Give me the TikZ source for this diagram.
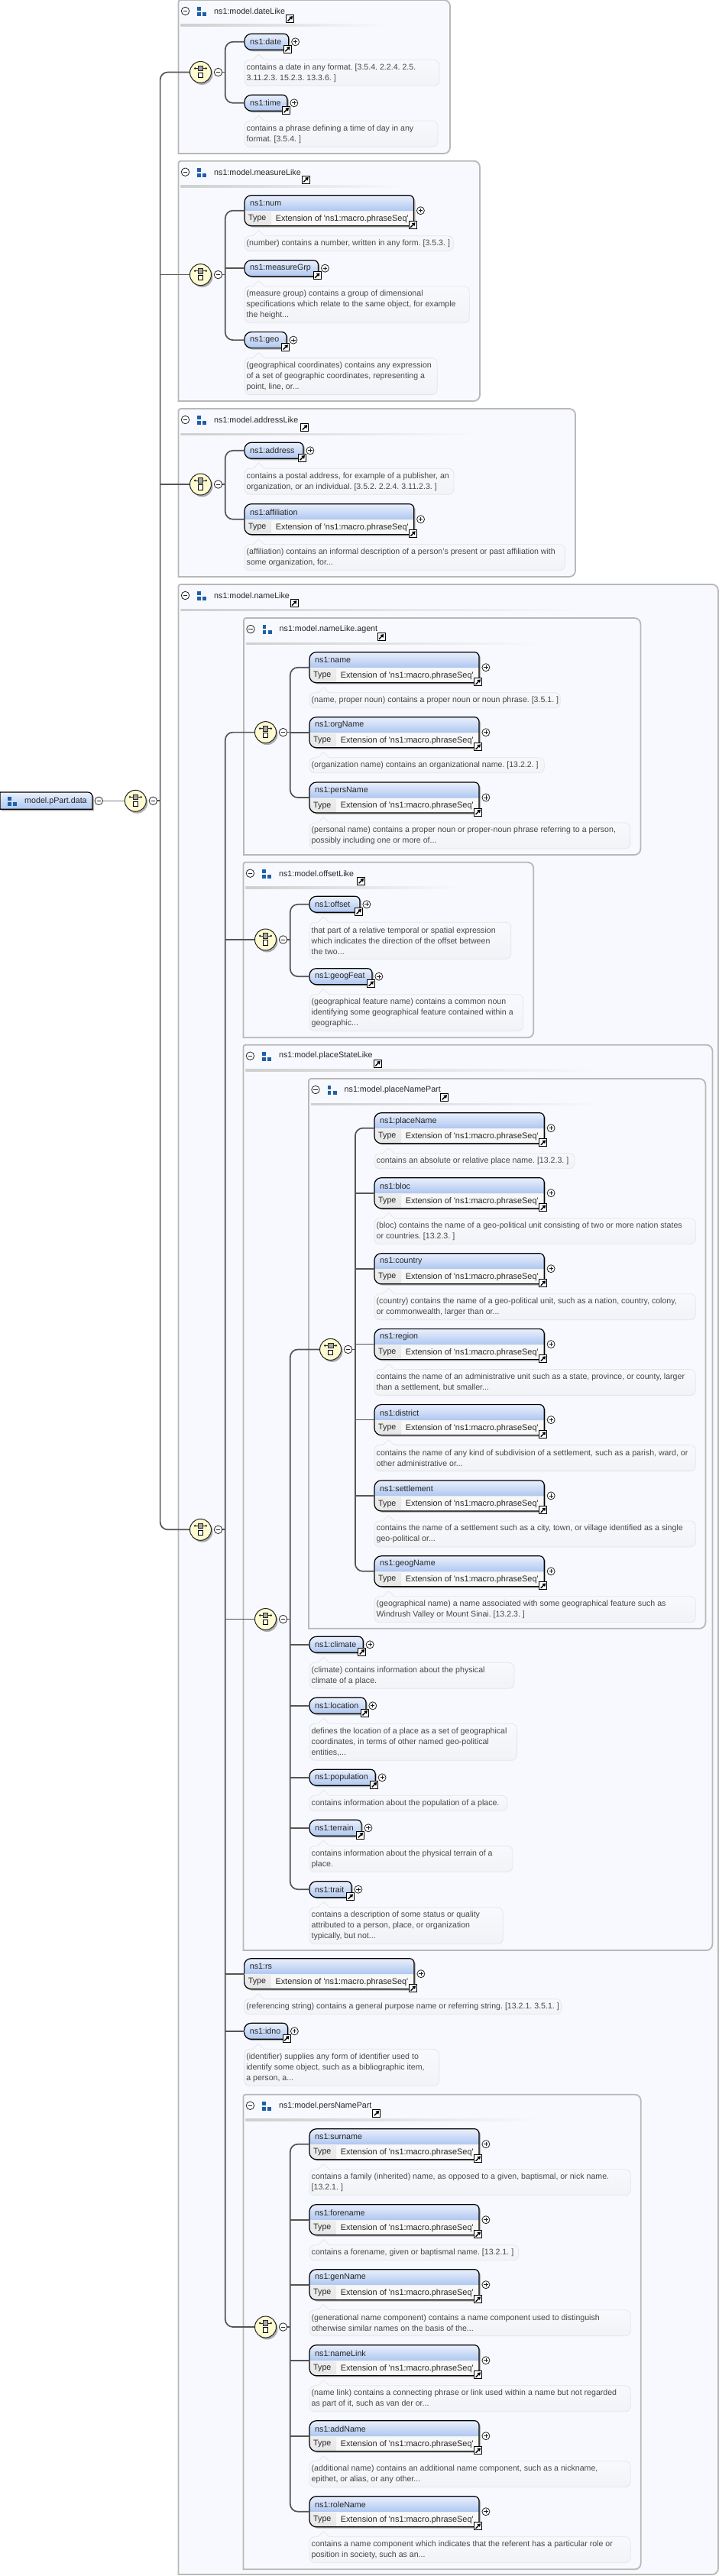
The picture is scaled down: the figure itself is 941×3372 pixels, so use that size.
\documentclass[tikz,border=0pt]{standalone}
\usepackage{fontspec}
\usepackage{xcolor}
\usetikzlibrary{positioning,shadows,arrows.meta}
\setmainfont{Liberation Sans}

\definecolor{elemtop}{HTML}{EAF0FD}
\definecolor{elembot}{HTML}{AEC7F0}
\definecolor{typegrey}{HTML}{E6E6E6}
\definecolor{extwhite}{HTML}{F8F8F8}
\definecolor{grpfill}{HTML}{F8F9FE}
\definecolor{grpline}{HTML}{B8B8B8}
\definecolor{hdrline}{HTML}{CFCFCF}
\definecolor{iconblue}{HTML}{1F5FA8}
\definecolor{seqfill}{HTML}{FDFBCF}
\definecolor{linkgrey}{HTML}{555555}
\definecolor{tiptop}{HTML}{F9FAFD}
\definecolor{tipbot}{HTML}{F2F3F6}
\definecolor{tipline}{HTML}{E4E6EA}

\newcommand{\namefont}{\fontsize{10.7}{13}\selectfont\frenchspacing}
\newcommand{\extfont}{\fontsize{10.9}{13}\selectfont}
\newcommand{\tipfont}{\fontsize{10.6}{14}\selectfont\frenchspacing}

\tikzset{
    framenode/.style={inner sep=0pt, outer sep=0pt},
    nametext/.style={inner sep=0pt, anchor=west, text=black!85, font=\namefont},
    tiptext/.style={inner sep=0pt, anchor=west, align=left, text=black!72, font=\tipfont},
    elembody/.style={draw=black, line width=1.2pt, top color=elemtop, bottom color=elembot},
    elemshadow/.style={fill=black!28},
    tipbody/.style={draw=tipline, line width=0.8pt, top color=tiptop, bottom color=tipbot},
    grpbody/.style={draw=grpline, line width=1.8pt, fill=grpfill},
    minusnode/.style={circle, draw=black!85, fill=white, line width=0.8pt, minimum size=10.5pt, inner sep=0pt,
        path picture={\draw [line width=0.8pt] ([xshift=-2.6pt]path picture bounding box.center) -- ([xshift=2.6pt]path picture bounding box.center);}},
    plusnode/.style={circle, draw=black!85, fill=white, line width=0.8pt, minimum size=10pt, inner sep=0pt,
        path picture={\draw [line width=0.8pt] ([xshift=-2.6pt]path picture bounding box.center) -- ([xshift=2.6pt]path picture bounding box.center)
            ([yshift=-2.6pt]path picture bounding box.center) -- ([yshift=2.6pt]path picture bounding box.center);}},
    linknode/.style={rectangle, draw=black, fill=white, line width=0.9pt, minimum size=10pt, inner sep=0pt,
        path picture={\draw [black, line width=1.4pt, -{Triangle[length=4pt,width=5pt]}] ([shift={(-3pt,-3pt)}]path picture bounding box.center) -- ([shift={(3.4pt,3.4pt)}]path picture bounding box.center);}},
    seqnode/.style={circle, draw=black!85, fill=seqfill, line width=1pt, minimum size=28pt, inner sep=0pt,
        drop shadow={shadow xshift=2pt, shadow yshift=-2.5pt, fill=black, opacity=0.3}},
    seqbar/.style={rectangle, draw=black!85, fill=black!35, line width=0.7pt, minimum size=6.5pt, inner sep=0pt},
    seqbox/.style={rectangle, draw=black, fill=white, line width=0.8pt, minimum size=6.5pt, inner sep=0pt},
    trunk/.style={draw=linkgrey, line width=1.7pt, rounded corners=10pt},
    rootlink/.style={draw=black!50, line width=1.3pt},
}

% element outline: square only at the bottom right
\newcommand{\elemshape}[5]{%
    \path [#5] (#3,#4) [rounded corners=9pt] -- (#1,#4) -- (#1,#2) [rounded corners=6pt] -- (#3,#2) [sharp corners] -- (#3,#4) -- cycle;
}

% id, left, top, right, name
\newcommand{\simpleelem}[5]{%
    \elemshape{#2+2}{#3+2}{#4+2}{#3+23}{elemshadow}
    \elemshape{#2}{#3}{#4}{#3+21}{elembody}
    \node (#1) [framenode, anchor=north west, minimum width={(#4-#2)*1pt}, minimum height=21pt] at (#2,#3) {};
    \node (#1name) [nametext] at ([xshift=7pt]#1.west) {#5};
    \node (#1plus) [plusnode, right=3.5pt of #1] {};
    \node (#1link) [linknode] at ([shift={(-1.4pt,1pt)}]#1.south east) {};
}

% id, left, top, right, name
\newcommand{\complexelem}[5]{%
    \elemshape{#2+2}{#3+2}{#4+2}{#3+42}{elemshadow}
    \elemshape{#2}{#3}{#4}{#3+40}{fill=extwhite}
    \path [top color=elemtop, bottom color=elembot] (#2,#3+20.5) [rounded corners=6pt] -- (#2,#3) -- (#4,#3) [sharp corners] -- (#4,#3+20.5) -- cycle;
    \path [top color=typegrey!70!white, bottom color=typegrey] (#2,#3+21.5) [rounded corners=9pt] -- (#2,#3+40) [sharp corners] -- (#2+35,#3+40) -- (#2+35,#3+21.5) -- cycle;
    \elemshape{#2}{#3}{#4}{#3+40}{draw=black, line width=1.2pt}
    \node (#1) [framenode, anchor=north west, minimum width={(#4-#2)*1pt}, minimum height=40pt] at (#2,#3) {};
    \node (#1name) [nametext] at (#2+7,#3+10.6) {#5};
    \node (#1type) [nametext] at (#2+5,#3+30.6) {Type};
    \node (#1ext) [nametext, font=\extfont] at (#2+40.7,#3+30.6) {Extension of \textquotesingle ns1:macro.phraseSeq\textquotesingle};
    \node (#1plus) [plusnode, right=3.5pt of #1] {};
    \node (#1link) [linknode] at ([shift={(-1.4pt,1pt)}]#1.south east) {};
}

% id, element above, width, number of lines, text
\newcommand{\tipbox}[5]{%
    \node (#1) [framenode, anchor=north west, minimum width=#3pt, minimum height={(#4*14+6)*1pt}] at ([yshift=-13pt]#2.south west) {};
    \path [tipbody] ([xshift=11pt]#1.north west) -- ([shift={(18.5pt,7pt)}]#1.north west) -- ([xshift=26pt]#1.north west)
        -- ([xshift=40pt]#1.north west) [rounded corners=7pt] -- (#1.north east) -- (#1.south east) -- (#1.south west) -- (#1.north west) [sharp corners] -- ([xshift=10pt]#1.north west) -- cycle;
    \node (#1text) [tiptext] at ([xshift=2.5pt]#1.west) {#5};
}

% the three blue squares
\newcommand{\modelicon}[2]{%
    \fill [iconblue] (#1-5.8,#2-5.8) rectangle (#1-1.2,#2-1.2);
    \fill [iconblue] (#1-5.8,#2+1.4) rectangle (#1-1.2,#2+6);
    \fill [iconblue] (#1+1.4,#2+1.4) rectangle (#1+6,#2+6);
}

% id, left, top, right, bottom, title, end of header line, x of link
\newcommand{\groupbox}[8]{%
    \path [grpbody] (#2,#5) [rounded corners=3pt] -- (#2,#3) [rounded corners=8pt] -- (#4,#3) -- (#4,#5) [sharp corners] -- (#2+20,#5) -- cycle;
    \shade [left color=hdrline, right color=grpfill] (#2+3,#3+32) rectangle (#7,#3+34.5);
    \node (#1minus) [minusnode] at (#2+9,#3+14.5) {};
    \modelicon{#2+30.5}{#3+15}
    \node (#1title) [nametext] at (#2+46.5,#3+14.5) {#6};
    \node (#1link) [linknode] at (#8,#3+24.5) {};
}

% id, x, y
\newcommand{\seqmark}[3]{%
    \node (#1) [seqnode] at (#2,#3) {};
    \draw [line width=0.9pt, black!85, {Circle[length=2.4pt]}-{Circle[length=2.4pt]}] ([shift={(-8.5pt,5pt)}]#1.center) -- ([shift={(8.5pt,5pt)}]#1.center);
    \node (#1bar) [seqbar] at ([yshift=5pt]#1.center) {};
    \node (#1box) [seqbox] at ([yshift=-4pt]#1.center) {};
    \node (#1ctl) [minusnode] at (#2+23,#3) {};
    \coordinate (#1fork) at (#2+32.3,#3);
    \draw [trunk] (#1ctl) -- (#1fork);
}

\begin{document}
\begin{tikzpicture}[x=1pt,y=-1pt]
    \useasboundingbox (0,0) rectangle (941,3372);

    % Root
    \path [elemshadow] (2,1061.5) -- (2,1039) [rounded corners=6pt] -- (123,1039) [sharp corners] -- (123,1061.5) -- cycle;
    \path [elembody] (0,1059.3) -- (0,1037) [rounded corners=6pt] -- (121,1037) [sharp corners] -- (121,1059.3) -- cycle;
    \node (rootbox) [framenode, anchor=north west, minimum width=121pt, minimum height=22.3pt] at (0,1037) {};
    \modelicon{16}{1049}
    \node (rootname) [nametext] at (32,1048.3) {model.pPart.data};
    \node (rootminus) [minusnode] at (129.3,1048.3) {};
    \seqmark{rootSeq}{177.3}{1048.3}
    \draw [rootlink] (rootminus) -- (rootSeq);

    % dateLike
    \groupbox{dateLike}{233.5}{0}{589}{201}{ns1:model.dateLike}{505}{379.7}
    \seqmark{dateSeq}{262.5}{94.5}
    \simpleelem{date}{320}{44.3}{377.7}{ns1:date}
    \tipbox{dateTip}{date}{255}{2}{contains a date in any format. [3.5.4. 2.2.4. 2.5.\\3.11.2.3. 15.2.3. 13.3.6. ]}
    \simpleelem{time}{320}{124.3}{376}{ns1:time}
    \tipbox{timeTip}{time}{253}{2}{contains a phrase defining a time of day in any\\format. [3.5.4. ]}
    \draw [trunk] (date.west) -| (dateSeqfork) |- (time.west);

    % measureLike
    \groupbox{measureLike}{233.5}{210.7}{628}{525}{ns1:model.measureLike}{530}{400.4}
    \seqmark{measureSeq}{262.5}{359.6}
    \complexelem{num}{320}{255.7}{541.5}{ns1:num}
    \tipbox{numTip}{num}{273.3}{1}{(number) contains a number, written in any form. [3.5.3. ]}
    \simpleelem{measureGrp}{320}{340.7}{416.5}{ns1:measureGrp}
    \tipbox{measureGrpTip}{measureGrp}{294.3}{3}{(measure group) contains a group of dimensional\\specifications which relate to the same object, for example\\the height...}
    \simpleelem{geo}{320}{434.6}{375}{ns1:geo}
    \tipbox{geoTip}{geo}{252.3}{3}{(geographical coordinates) contains any expression\\of a set of geographic coordinates, representing a\\point, line, or...}
    \draw [trunk] (num.west) -| (measureSeqfork) |- (geo.west);
    \draw [trunk] (measureGrp.west) -- (measureGrp.west -| measureSeqfork);

    % addressLike
    \groupbox{addressLike}{233.5}{535}{753}{755}{ns1:model.addressLike}{625}{398.8}
    \seqmark{addressSeq}{262.5}{634}
    \simpleelem{address}{320}{579.3}{397}{ns1:address}
    \tipbox{addressTip}{address}{274}{2}{contains a postal address, for example of a publisher, an\\organization, or an individual. [3.5.2. 2.2.4. 3.11.2.3. ]}
    \complexelem{affiliation}{320}{659.7}{541.7}{ns1:affiliation}
    \tipbox{affiliationTip}{affiliation}{419.4}{2}{(affiliation) contains an informal description of a person's present or past affiliation with\\some organization, for...}
    \draw [trunk] (address.west) -| (addressSeqfork) |- (affiliation.west);

    % nameLike
    \groupbox{nameLike}{233.5}{765}{940}{3370}{ns1:model.nameLike}{769}{385}
    \seqmark{nameSeq}{262.5}{2002.3}

    % nameLike.agent
    \groupbox{agent}{319}{809}{838.4}{1119}{ns1:model.nameLike.agent}{710}{499}
    \seqmark{agentSeq}{347.5}{958.6}
    \complexelem{name}{405}{853.7}{627}{ns1:name}
    \tipbox{nameTip}{name}{328.3}{1}{(name, proper noun) contains a proper noun or noun phrase. [3.5.1. ]}
    \complexelem{orgName}{405}{938.7}{627}{ns1:orgName}
    \tipbox{orgNameTip}{orgName}{307.3}{1}{(organization name) contains an organizational name. [13.2.2. ]}
    \complexelem{persName}{405}{1024}{627}{ns1:persName}
    \tipbox{persNameTip}{persName}{419.6}{2}{(personal name) contains a proper noun or proper-noun phrase referring to a person,\\possibly including one or more of...}
    \draw [trunk] (name.west) -| (agentSeqfork) |- (persName.west);
    \draw [trunk] (orgName.west) -- (orgName.west -| agentSeqfork);

    % offsetLike
    \groupbox{offsetLike}{318.4}{1128.7}{698.3}{1358.3}{ns1:model.offsetLike}{603}{472.7}
    \seqmark{offsetSeq}{347.5}{1230}
    \simpleelem{offset}{405}{1173.3}{471}{ns1:offset}
    \tipbox{offsetTip}{offset}{263.8}{3}{that part of a relative temporal or spatial expression\\which indicates the direction of the offset between\\the two...}
    \simpleelem{geogFeat}{405}{1267.7}{487}{ns1:geogFeat}
    \tipbox{geogFeatTip}{geogFeat}{279.8}{3}{(geographical feature name) contains a common noun\\identifying some geographical feature contained within a\\geographic...}
    \draw [trunk] (offset.west) -| (offsetSeqfork) |- (geogFeat.west);

    % placeStateLike
    \groupbox{placeState}{318.4}{1367.7}{932.4}{2553}{ns1:model.placeStateLike}{783}{494.4}
    \seqmark{placeStateSeq}{347.5}{2119.5}

    % placeNamePart
    \groupbox{placeNamePart}{404}{1412}{923.4}{2131.8}{ns1:model.placeNamePart}{791}{581.6}
    \seqmark{placeNameSeq}{432.6}{1766.4}
    \complexelem{placeName}{490}{1456.7}{712.2}{ns1:placeName}
    \tipbox{placeNameTip}{placeName}{262}{1}{contains an absolute or relative place name. [13.2.3. ]}
    \complexelem{bloc}{490}{1541.7}{712.2}{ns1:bloc}
    \tipbox{blocTip}{bloc}{420.3}{2}{(bloc) contains the name of a geo-political unit consisting of two or more nation states\\or countries. [13.2.3. ]}
    \complexelem{country}{490}{1640.7}{712.2}{ns1:country}
    \tipbox{countryTip}{country}{420.3}{2}{(country) contains the name of a geo-political unit, such as a nation, country, colony,\\or commonwealth, larger than or...}
    \complexelem{region}{490}{1739.6}{712.2}{ns1:region}
    \tipbox{regionTip}{region}{420.3}{2}{contains the name of an administrative unit such as a state, province, or county, larger\\than a settlement, but smaller...}
    \complexelem{district}{490}{1838.6}{712.2}{ns1:district}
    \tipbox{districtTip}{district}{420.3}{2}{contains the name of any kind of subdivision of a settlement, such as a parish, ward, or\\other administrative or...}
    \complexelem{settlement}{490}{1937.9}{712.2}{ns1:settlement}
    \tipbox{settlementTip}{settlement}{420.3}{2}{contains the name of a settlement such as a city, town, or village identified as a single\\geo-political or...}
    \complexelem{geogName}{490}{2036.8}{712.2}{ns1:geogName}
    \tipbox{geogNameTip}{geogName}{420.3}{2}{(geographical name) a name associated with some geographical feature such as\\Windrush Valley or Mount Sinai. [13.2.3. ]}
    \draw [trunk] (placeName.west) -| (placeNameSeqfork) |- (geogName.west);
    \draw [trunk] (bloc.west) -- (bloc.west -| placeNameSeqfork);
    \draw [trunk] (country.west) -- (country.west -| placeNameSeqfork);
    \draw [trunk] (region.west) -- (region.west -| placeNameSeqfork);
    \draw [trunk] (district.west) -- (district.west -| placeNameSeqfork);
    \draw [trunk] (settlement.west) -- (settlement.west -| placeNameSeqfork);

    % Rest of placeStateLike
    \simpleelem{climate}{405}{2142.3}{475.2}{ns1:climate}
    \tipbox{climateTip}{climate}{267.9}{2}{(climate) contains information about the physical\\climate of a place.}
    \simpleelem{location}{405}{2222.3}{478.9}{ns1:location}
    \tipbox{locationTip}{location}{271.6}{3}{defines the location of a place as a set of geographical\\coordinates, in terms of other named geo-political\\entities,...}
    \simpleelem{population}{405}{2316.3}{491.2}{ns1:population}
    \tipbox{populationTip}{population}{258.9}{1}{contains information about the population of a place.}
    \simpleelem{terrain}{405}{2382.3}{473.1}{ns1:terrain}
    \tipbox{terrainTip}{terrain}{265.9}{2}{contains information about the physical terrain of a\\place.}
    \simpleelem{trait}{405}{2462.7}{460}{ns1:trait}
    \tipbox{traitTip}{trait}{253.2}{3}{contains a description of some status or quality\\attributed to a person, place, or organization\\typically, but not...}
    \draw [trunk] (placeNameSeq.west) -| (placeStateSeqfork) |- (trait.west);
    \draw [trunk] (climate.west) -- (climate.west -| placeStateSeqfork);
    \draw [trunk] (location.west) -- (location.west -| placeStateSeqfork);
    \draw [trunk] (population.west) -- (population.west -| placeStateSeqfork);
    \draw [trunk] (terrain.west) -- (terrain.west -| placeStateSeqfork);

    % rs and idno
    \complexelem{rs}{319.6}{2563.7}{542}{ns1:rs}
    \tipbox{rsTip}{rs}{415}{1}{(referencing string) contains a general purpose name or referring string. [13.2.1. 3.5.1. ]}
    \simpleelem{idno}{319.6}{2648.3}{376.5}{ns1:idno}
    \tipbox{idnoTip}{idno}{255}{3}{(identifier) supplies any form of identifier used to\\identify some object, such as a bibliographic item,\\a person, a...}

    % persNamePart
    \groupbox{persNamePart}{318.4}{2741.7}{838.7}{3363.3}{ns1:model.persNamePart}{709}{492.8}
    \seqmark{persSeq}{347.5}{3046}
    \complexelem{surname}{405}{2786.7}{627}{ns1:surname}
    \tipbox{surnameTip}{surname}{420.2}{2}{contains a family (inherited) name, as opposed to a given, baptismal, or nick name.\\{[13.2.1. ]}}
    \complexelem{forename}{405}{2885.7}{627}{ns1:forename}
    \tipbox{forenameTip}{forename}{273.6}{1}{contains a forename, given or baptismal name. [13.2.1. ]}
    \complexelem{genName}{405}{2970.7}{627}{ns1:genName}
    \tipbox{genNameTip}{genName}{420.2}{2}{(generational name component) contains a name component used to distinguish\\otherwise similar names on the basis of the...}
    \complexelem{nameLink}{405}{3069.7}{627}{ns1:nameLink}
    \tipbox{nameLinkTip}{nameLink}{420.2}{2}{(name link) contains a connecting phrase or link used within a name but not regarded\\as part of it, such as van der or...}
    \complexelem{addName}{405}{3168.7}{627}{ns1:addName}
    \tipbox{addNameTip}{addName}{420.2}{2}{(additional name) contains an additional name component, such as a nickname,\\epithet, or alias, or any other...}
    \complexelem{roleName}{405}{3267.7}{627}{ns1:roleName}
    \tipbox{roleNameTip}{roleName}{420.2}{2}{contains a name component which indicates that the referent has a particular role or\\position in society, such as an...}
    \draw [trunk] (surname.west) -| (persSeqfork) |- (roleName.west);
    \draw [trunk] (forename.west) -- (forename.west -| persSeqfork);
    \draw [trunk] (genName.west) -- (genName.west -| persSeqfork);
    \draw [trunk] (nameLink.west) -- (nameLink.west -| persSeqfork);
    \draw [trunk] (addName.west) -- (addName.west -| persSeqfork);

    % Trunks of nameLike and of the root
    \draw [trunk] (agentSeq.west) -| (nameSeqfork) |- (persSeq.west);
    \draw [trunk] (offsetSeq.west) -- (offsetSeq.west -| nameSeqfork);
    \draw [trunk] (placeStateSeq.west) -- (placeStateSeq.west -| nameSeqfork);
    \draw [trunk] (rs.west) -- (rs.west -| nameSeqfork);
    \draw [trunk] (idno.west) -- (idno.west -| nameSeqfork);
    \draw [trunk] (dateSeq.west) -| (rootSeqfork) |- (nameSeq.west);
    \draw [trunk] (measureSeq.west) -- (measureSeq.west -| rootSeqfork);
    \draw [trunk] (addressSeq.west) -- (addressSeq.west -| rootSeqfork);
\end{tikzpicture}
\end{document}
